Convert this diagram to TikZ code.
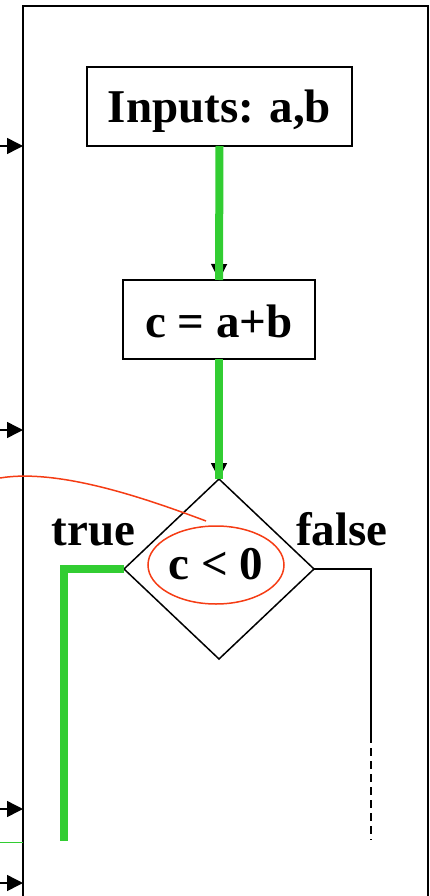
\documentclass[tikz,border=0pt]{standalone}
\usepackage{fontspec}
\setmainfont{Liberation Serif}
\usetikzlibrary{shapes.geometric,arrows.meta,positioning}
\definecolor{flowgreen}{RGB}{50,205,50}
\definecolor{markred}{RGB}{245,60,20}

\begin{document}
\begin{tikzpicture}[x=1pt,y=-1pt,
    box/.style={draw,line width=2pt,inner sep=0pt,outer sep=0pt,minimum height=79pt,text depth=0pt},
    label text/.style={font=\fontsize{47}{56}\selectfont\bfseries},
    flow/.style={draw=flowgreen,line width=8pt},
    tip/.style={-{Triangle[length=16pt,width=16pt]},line width=1.5pt}]
    \useasboundingbox (0,0) rectangle (430,896);
    \def\fl{23}
    \def\fr{428}
    %Frame
    \coordinate (f1) at (\fl,896);
    \coordinate (f2) at (\fl,6);
    \coordinate (f3) at (\fr,6);
    \coordinate (f4) at (\fr,896);
    \draw[line width=1.5pt] (f1) -- (f2) -- (f3) -- (f4);
    %Incoming arrows
    \foreach \y/\n in {146/a,430/b,809/c,883/d}{
        \coordinate (in\n) at (0,\y);
        \coordinate (on\n) at (\fl,\y);
        \draw[tip] (in\n) -- (on\n);
    }
    \coordinate (g0) at (0,842);
    \coordinate (g1) at (\fl,842);
    \draw[flowgreen,line width=1pt] (g0) -- (g1);
    %Nodes
    \node[box,label text,minimum width=265pt,text height=33pt] (inputs) at (219.5,106.5) {Inputs: a,b};
    \node[box,label text,minimum width=192pt,text height=35pt] (sum) at (219,319.5) {c = a+b};
    \node[diamond,draw,line width=1.5pt,inner sep=0pt,outer sep=0pt,minimum width=190pt,minimum height=180pt] (test) at (219,569) {};
    \node[ellipse,draw=markred,line width=1.5pt,label text,inner sep=0pt,minimum width=136pt,minimum height=78pt,text height=28pt,text depth=0pt] (cond) at (216,565) {c < 0};
    \node[label text,anchor=base] (yes) at (93.5,545) {true};
    \node[label text,anchor=base] (no) at (342,545) {false};
    %Flow
    \draw[tip] (inputs.south) -- (sum.north);
    \draw[flow] (inputs.south) -- (sum.north);
    \draw[tip] (sum.south) -- (test.north);
    \draw[flow] (sum.south) -- (test.north);
    \coordinate (t1) at (64,569);
    \coordinate (t2) at (64,841);
    \draw[flow,line join=miter] (test.west) -- (t1) -- (t2);
    \coordinate (n1) at (371,569);
    \coordinate (n2) at (371,735);
    \coordinate (n3) at (371,840);
    \draw[line width=1.5pt] (test.east) -- (n1) -- (n2);
    \draw[line width=1.5pt,dash pattern=on 8pt off 5pt] (n2) -- (n3);
    %Mark
    \coordinate (m0) at (0,478);
    \coordinate (m1) at (206,521);
    \draw[markred,line width=1.5pt] (m0) .. controls (60,468) and (150,500) .. (m1);
\end{tikzpicture}
\end{document}
